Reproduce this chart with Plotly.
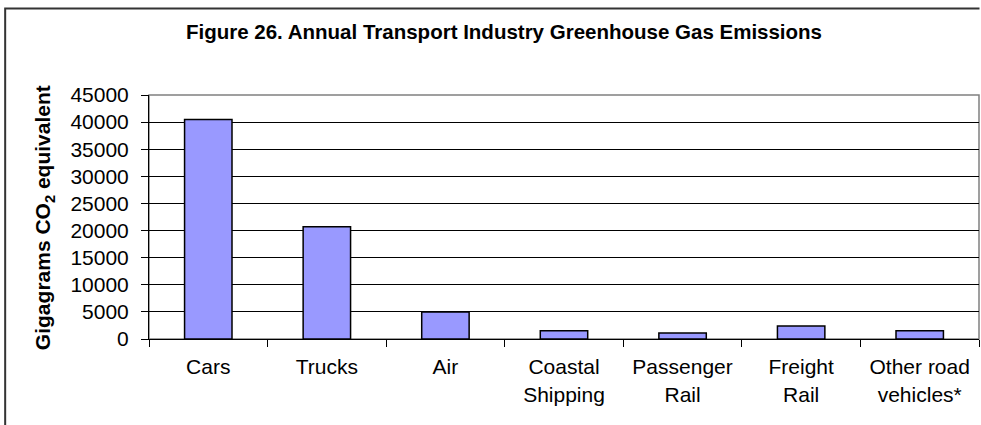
import plotly.graph_objects as go

# Transport sectors and their annual emissions (Gg CO2-e)
categories = ["Cars", "Trucks", "Air", "Coastal<br>Shipping", "Passenger<br>Rail",
              "Freight<br>Rail", "Other road<br>vehicles*"]
emissions = [40500, 20700, 5000, 1500, 1100, 2400, 1500]
y_ticks = [0, 5000, 10000, 15000, 20000, 25000, 30000, 35000, 40000, 45000]

W, H = 981, 425
L, R, T, B = 148.5, 1.5, 95, 86
pw, ph = W - L - R, H - T - B


def px_x(x):
    return (x - L) / pw


def px_y(y):
    return (H - B - y) / ph


FONT = "Liberation Sans, Arial, sans-serif"

fig = go.Figure(
    go.Bar(
        x=categories,
        y=emissions,
        width=0.4,
        marker=dict(color="#9999FF", line=dict(color="#000000", width=1.5)),
        hoverinfo="x+y",
    )
)

# outer chart frame: left edge and top edge
fx0, fy0 = px_x(4.5), px_y(8.5)
fx1, fy1 = px_x(W - 1), px_y(H + 20)
frame_path = f"M {fx1},{fy0} L {fx0},{fy0} L {fx0},{fy1}"

fig.update_layout(
    width=W,
    height=H,
    margin=dict(l=L, r=R, t=T, b=B, pad=0),
    paper_bgcolor="white",
    plot_bgcolor="white",
    showlegend=False,
    font=dict(family=FONT, color="#000000"),
    title=dict(
        text="<b>Figure 26. Annual Transport Industry Greenhouse Gas Emissions</b>",
        font=dict(family=FONT, size=20.5, color="#000000"),
        xref="container", yref="container",
        x=504 / W, xanchor="center",
        y=1 - 32 / H, yanchor="middle",
    ),
    xaxis=dict(
        type="category",
        tickson="boundaries",
        ticks="outside",
        ticklen=7,
        tickwidth=1,
        tickcolor="#000000",
        showline=True,
        linecolor="#000000",
        linewidth=1,
        showgrid=False,
        tickfont=dict(family=FONT, size=21, color="#000000"),
        ticklabelstandoff=9,
    ),
    yaxis=dict(
        range=[0, 45000],
        tickvals=y_ticks,
        ticktext=[str(v) for v in y_ticks],
        ticks="outside",
        ticklen=7,
        tickwidth=1,
        tickcolor="#000000",
        showline=True,
        linecolor="#000000",
        linewidth=1,
        showgrid=True,
        gridcolor="#000000",
        gridwidth=1,
        zeroline=False,
        tickfont=dict(family=FONT, size=21, color="#000000"),
        ticklabelstandoff=8,
    ),
    annotations=[
        dict(
            text="<b>Gigagrams CO<sub>2</sub> equivalent</b>",
            xref="paper", yref="paper",
            x=px_x(43), y=px_y(217.5),
            xanchor="center", yanchor="middle",
            textangle=-90,
            showarrow=False,
            font=dict(family=FONT, size=21, color="#000000"),
        )
    ],
    shapes=[
        # grey plot-area border (top and right edges)
        dict(type="rect", xref="paper", yref="paper", x0=0, x1=1, y0=0, y1=1,
             line=dict(color="#808080", width=1.5), layer="below"),
        dict(type="path", xref="paper", yref="paper", path=frame_path,
             line=dict(color="#333333", width=2)),
    ],
)

fig.write_html("out.html")
